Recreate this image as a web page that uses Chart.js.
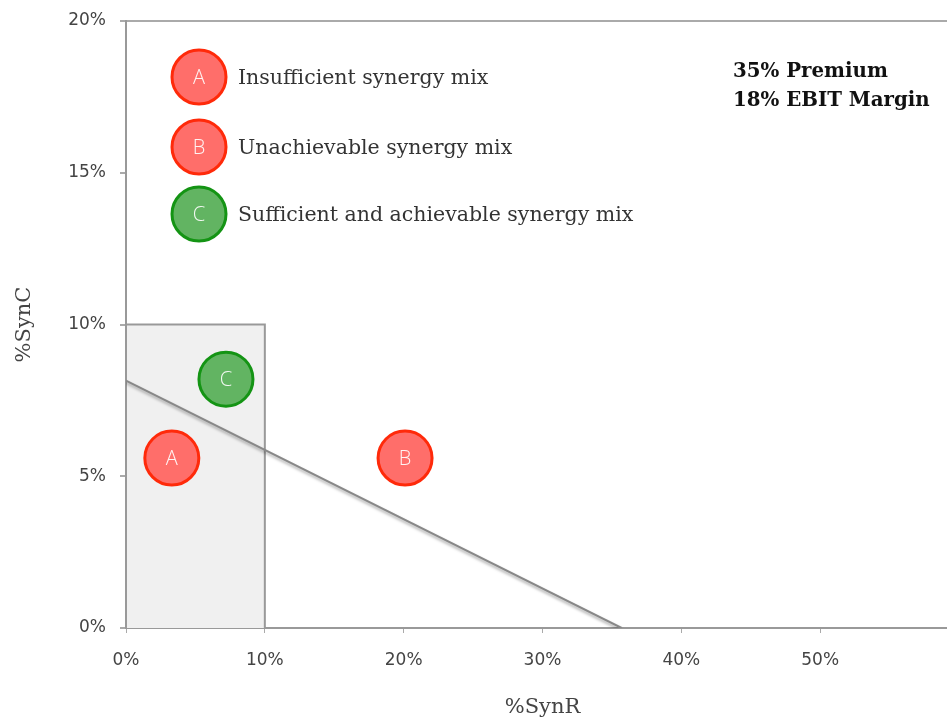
<!DOCTYPE html>
<html><head><meta charset="utf-8">
<script src="https://cdn.jsdelivr.net/npm/chart.js@4/dist/chart.umd.min.js"></script>
<style>html,body{margin:0;padding:0;overflow:hidden;background:#fff}
#wrap{position:relative;width:962px;height:720px}</style></head>
<body><div id="wrap"><canvas id="c"></canvas></div>
<script>
// ---- data ----
const pointLabels = ['A', 'B', 'C'];
const synR = [0.033, 0.201, 0.072];
const synC = [0.056, 0.056, 0.082];
const pointFill = ['#ff6e6a', '#ff6e6a', '#62b462'];
const pointEdge = ['#ff2a0a', '#ff2a0a', '#149414'];
const thresholdR = [0, 0.357];
const thresholdC = [0.0815, 0];
const boxR = [0, 0, 0.10, 0.10];
const boxC = [0, 0.10, 0.10, 0];
const legendLetters = ['A', 'B', 'C'];
const legendLabels = ['Insufficient synergy mix', 'Unachievable synergy mix', 'Sufficient and achievable synergy mix'];
const legendFill = ['#ff6e6a', '#ff6e6a', '#62b462'];
const legendEdge = ['#ff2a0a', '#ff2a0a', '#149414'];
const noteLines = ['35% Premium', '18% EBIT Margin'];
const xTitle = '%SynR';
const yTitle = '%SynC';

const pct = v => Math.round(v * 100) + '%';
const noPad = s => { s.paddingTop = 0; s.paddingBottom = 0; s.paddingLeft = 0; s.paddingRight = 0; };

const labelPlugin = {
  id: 'pointLetters',
  beforeDatasetDraw(chart, args) {
    if (chart.data.datasets[args.index].id === 'threshold') {
      const c = chart.ctx; c.save();
      c.shadowColor = 'rgba(0,0,0,0.35)'; c.shadowBlur = 3; c.shadowOffsetY = 2;
    }
  },
  afterDatasetDraw(chart, args) {
    if (chart.data.datasets[args.index].id === 'threshold') chart.ctx.restore();
  },
  afterDatasetsDraw(chart) {
    const c = chart.ctx;
    const meta = chart.getDatasetMeta(0);
    const letterFont = '300 20px "Open Sans"';
    c.save();
    c.font = letterFont;
    c.fillStyle = 'rgba(255,255,255,0.92)';
    c.textAlign = 'center'; c.textBaseline = 'middle';
    meta.data.forEach((el, i) => c.fillText(pointLabels[i], el.x, el.y + 1));
    // legend
    const a = chart.chartArea;
    const ys = [56, 126, 193];
    legendLabels.forEach((t, i) => {
      const cx = a.left + 73, cy = a.top + ys[i];
      c.beginPath(); c.arc(cx, cy, 27, 0, Math.PI * 2);
      c.fillStyle = legendFill[i]; c.fill();
      c.lineWidth = 3; c.strokeStyle = legendEdge[i]; c.stroke();
      c.font = letterFont; c.fillStyle = 'rgba(255,255,255,0.92)'; c.textAlign = 'center';
      c.fillText(legendLetters[i], cx, cy + 1);
      c.font = '20.5px "DejaVu Serif"'; c.fillStyle = '#333'; c.textAlign = 'left';
      c.fillText(t, a.left + 112, cy + 2);
    });
    c.font = 'bold 19.8px "DejaVu Serif"'; c.fillStyle = '#111'; c.textAlign = 'left';
    noteLines.forEach((t, i) => c.fillText(t, a.left + 607, a.top + 51 + i * 29));
    c.restore();
  }
};

new Chart(document.getElementById('c'), {
  type: 'scatter',
  data: {
    datasets: [
      {
        id: 'points',
        data: synR.map((x, i) => ({x, y: synC[i]})),
        pointRadius: 27, pointHoverRadius: 27,
        pointBackgroundColor: pointFill, pointBorderColor: pointEdge,
        pointBorderWidth: 3, showLine: false, order: 0
      },
      {
        id: 'threshold', type: 'line',
        data: thresholdR.map((x, i) => ({x, y: thresholdC[i]})),
        borderColor: '#888', borderWidth: 2, pointRadius: 0, showLine: true, fill: false, order: 1
      },
      {
        id: 'box', type: 'line',
        data: boxR.map((x, i) => ({x, y: boxC[i]})),
        borderColor: '#999', borderWidth: 2, backgroundColor: '#f0f0f0',
        pointRadius: 0, showLine: true, fill: 'origin', tension: 0, order: 2
      }
    ]
  },
  options: {
    responsive: true, maintainAspectRatio: false, animation: false,
    layout: {autoPadding: false, padding: {top: 21, right: 3, left: 0, bottom: 0}},
    plugins: {legend: {display: false}, tooltip: {enabled: false}},
    scales: {
      x: {
        type: 'linear', min: 0, max: 0.6,
        afterFit: s => { s.height = 92; noPad(s); },
        ticks: {stepSize: 0.1, padding: 17, color: '#444', font: {family: 'DejaVu Sans', size: 17},
          callback: v => v >= 0.59 ? '' : pct(v)},
        grid: {drawOnChartArea: false, tickLength: 5, tickColor: '#aaa'},
        border: {color: '#999', width: 2},
        title: {display: true, text: xTitle, color: '#444', font: {family: 'DejaVu Serif', size: 21}, padding: {top: 0, bottom: 0}}
      },
      y: {
        type: 'linear', min: 0, max: 0.2,
        afterFit: s => { s.width = 126; noPad(s); },
        ticks: {stepSize: 0.05, padding: 14, color: '#444', font: {family: 'DejaVu Sans', size: 17}, callback: v => pct(v)},
        grid: {drawOnChartArea: true, tickLength: 6, tickColor: '#aaa',
          color: ctx => (ctx.tick && Math.abs(ctx.tick.value - 0.2) < 1e-9) ? '#aaa' : 'rgba(0,0,0,0)', lineWidth: 2},
        border: {color: '#999', width: 2},
        title: {display: true, text: yTitle, color: '#444', font: {family: 'DejaVu Serif', size: 21}, padding: {top: 12, bottom: 0}}
      }
    }
  },
  plugins: [labelPlugin]
});
</script></body></html>
